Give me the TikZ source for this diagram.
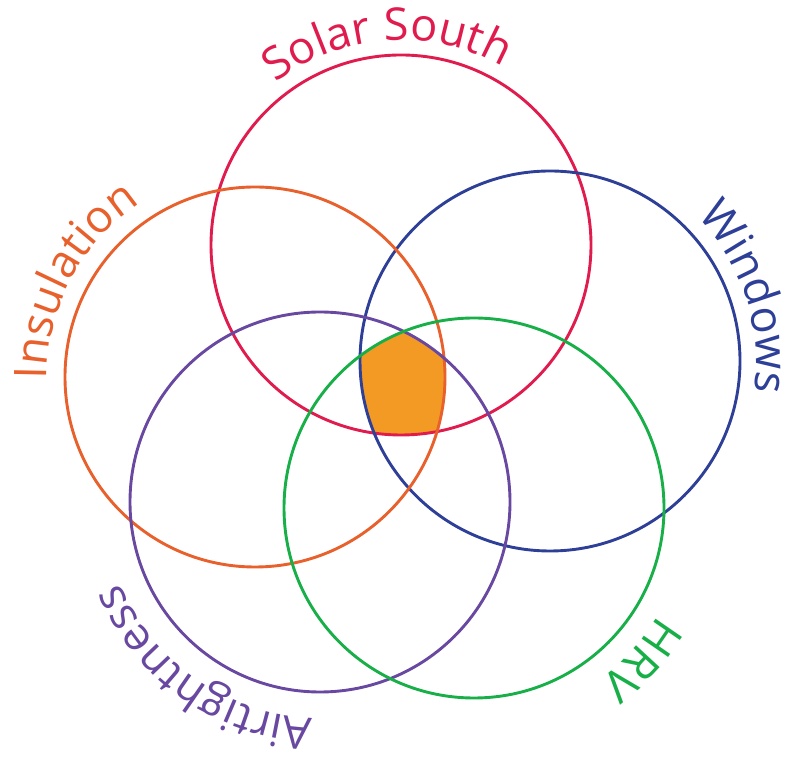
\documentclass[tikz,border=0pt]{standalone}
\usepackage{fontspec}
\setmainfont{Open Sans}
\usetikzlibrary{decorations.text}
\definecolor{cred}{RGB}{224,27,77}
\definecolor{cblue}{RGB}{46,63,152}
\definecolor{corange}{RGB}{232,96,44}
\definecolor{cpurple}{RGB}{104,72,160}
\definecolor{cgreen}{RGB}{24,175,72}
\definecolor{cfill}{RGB}{242,154,36}
\tikzset{
  ring/.style={line width=2.9pt, draw=#1},
  arclabel/.style 2 args={decorate, decoration={text along path, text align=center,
     text={|\fontsize{45}{48}\selectfont\color{#1}|#2}}}
}
\begin{document}
\begin{tikzpicture}[x=1pt,y=1pt]
\useasboundingbox (0,0) rectangle (789,757);
\coordinate (cR) at (401,512);
\coordinate (cB) at (550,396);
\coordinate (cO) at (255,380);
\coordinate (cP) at (320,255);
\coordinate (cG) at (474,249);
\begin{scope}
  \clip (cR) circle[radius=190];
  \clip (cB) circle[radius=190];
  \clip (cO) circle[radius=190];
  \clip (cP) circle[radius=190];
  \clip (cG) circle[radius=190];
  \fill[cfill] (0,0) rectangle (789,757);
\end{scope}
\draw[ring=cred] (cR) circle[radius=190];
\draw[ring=cblue] (cB) circle[radius=190];
\draw[ring=corange] (cO) circle[radius=190];
\draw[ring=cpurple] (cP) circle[radius=190];
\draw[ring=cgreen] (cG) circle[radius=190];
% labels
\path[arclabel={cred}{Solar South}] (cR) ++(154:205) arc[start angle=154, end angle=34, radius=205];
\path[arclabel={cblue}{Windows}] (cB) ++(78:206) arc[start angle=78, end angle=-42, radius=206];
\path[arclabel={corange}{Insulation}] (cO) ++(212:208) arc[start angle=212, end angle=92, radius=208];
\path[arclabel={cpurple}{Airtightness}] (cP) ++(295:216) arc[start angle=295, end angle=175, radius=216];
\path[arclabel={cgreen}{HRV}] (cG) ++(18:213) arc[start angle=18, end angle=-102, radius=213];
\end{tikzpicture}
\end{document}
